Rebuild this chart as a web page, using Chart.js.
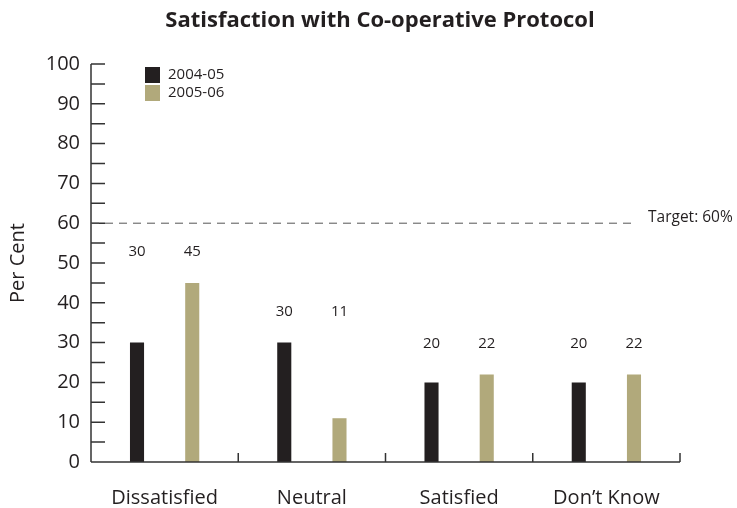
<!DOCTYPE html>
<html lang="en">
<head>
<meta charset="UTF-8">
<title>Satisfaction with Co-operative Protocol</title>
<script src="https://cdn.jsdelivr.net/npm/chart.js"></script>
<style>
    html, body { margin: 0; padding: 0; background: #fff; }
    #wrap { width: 737px; height: 508px; }
</style>
</head>
<body>
<div id="wrap"><canvas id="chart" width="737" height="508"></canvas></div>
<script>
const categories = ['Dissatisfied', 'Neutral', 'Satisfied', 'Don\u2019t Know'];
const seriesNames = ['2004-05', '2005-06'];
const values0405 = [30, 30, 20, 20];
const values0506 = [45, 11, 22, 22];
const targetValue = 60;
const targetLabel = 'Target: 60%';
const chartTitle = 'Satisfaction with Co-operative Protocol';
const yTitle = 'Per Cent';

const INK = '#231f20';
const KHAKI = '#b1a97b';
const FONT = '"Open Sans", "Noto Sans", sans-serif';

// axes, ticks, target line, value labels, legend and title drawn by hand
const decor = {
    id: 'decor',
    afterDatasetsDraw(chart) {
        const ctx = chart.ctx;
        const area = chart.chartArea;
        const xs = chart.scales.x;
        const ys = chart.scales.y;
        ctx.save();

        // y axis + inward ticks every 5
        ctx.strokeStyle = '#333';
        ctx.lineWidth = 1.5;
        ctx.beginPath();
        ctx.moveTo(area.left, area.top);
        ctx.lineTo(area.left, area.bottom);
        for (let v = 0; v <= 100; v += 5) {
            const y = ys.getPixelForValue(v);
            ctx.moveTo(area.left, y);
            ctx.lineTo(area.left + 14, y);
        }
        // x axis + dividers
        ctx.moveTo(area.left, area.bottom);
        ctx.lineTo(area.right, area.bottom);
        const half = (area.right - area.left) / categories.length / 2;
        for (let i = 0; i < categories.length; i++) {
            const x = xs.getPixelForValue(i) + half;
            ctx.moveTo(x, area.bottom - 9);
            ctx.lineTo(x, area.bottom);
        }
        ctx.stroke();

        // target line
        const ty = ys.getPixelForValue(targetValue);
        ctx.strokeStyle = '#555';
        ctx.lineWidth = 1;
        ctx.setLineDash([8, 6]);
        ctx.beginPath();
        ctx.moveTo(area.left, ty);
        ctx.lineTo(area.right - 48, ty);
        ctx.stroke();
        ctx.setLineDash([]);
        ctx.fillStyle = INK;
        ctx.font = '15.5px ' + FONT;
        ctx.textAlign = 'left';
        ctx.textBaseline = 'middle';
        ctx.fillText(targetLabel, area.right - 32, ty - 6);

        // value labels, set above the taller bar of each group
        ctx.font = '15px ' + FONT;
        ctx.textAlign = 'center';
        const sets = [values0405, values0506];
        for (let i = 0; i < categories.length; i++) {
            const top = Math.max(values0405[i], values0506[i]);
            const y = ys.getPixelForValue(top) - 31;
            sets.forEach((vals, d) => {
                const bar = chart.getDatasetMeta(d).data[i];
                ctx.fillText(String(vals[i]), bar.x, y);
            });
        }

        // legend
        const colors = [INK, KHAKI];
        ctx.textAlign = 'left';
        seriesNames.forEach((name, d) => {
            ctx.fillStyle = colors[d];
            ctx.fillRect(145, 67 + d * 18, 15, 16);
            ctx.fillStyle = INK;
            ctx.fillText(name, 168, 75 + d * 18);
        });

        // title
        ctx.font = 'bold 22px ' + FONT;
        ctx.textAlign = 'center';
        ctx.fillText(chartTitle, 380, 21);
        ctx.restore();
    }
};

new Chart(document.getElementById('chart'), {
    type: 'bar',
    data: {
        labels: categories,
        datasets: [
            { label: seriesNames[0], data: values0405, backgroundColor: INK },
            { label: seriesNames[1], data: values0506, backgroundColor: KHAKI }
        ]
    },
    options: {
        responsive: false,
        animation: false,
        categoryPercentage: 0.75,
        barPercentage: 0.255,
        layout: { padding: { top: 64, right: 57, bottom: 0, left: 0 } },
        plugins: {
            legend: { display: false },
            tooltip: { enabled: false }
        },
        scales: {
            x: {
                offset: true,
                grid: { display: false, drawTicks: false },
                border: { display: false },
                ticks: { color: INK, font: { family: FONT, size: 20 }, padding: 24 },
                afterFit(s) { s.height = 46; }
            },
            y: {
                min: 0,
                max: 100,
                grid: { display: false, drawTicks: false },
                border: { display: false },
                ticks: { stepSize: 10, color: INK, font: { family: FONT, size: 20 }, padding: 11 },
                title: {
                    display: true, text: yTitle, color: INK,
                    font: { family: FONT, size: 20 }, padding: { top: 6, bottom: 0 }
                },
                afterFit(s) { s.width = 91; }
            }
        }
    },
    plugins: [decor]
});
</script>
</body>
</html>
